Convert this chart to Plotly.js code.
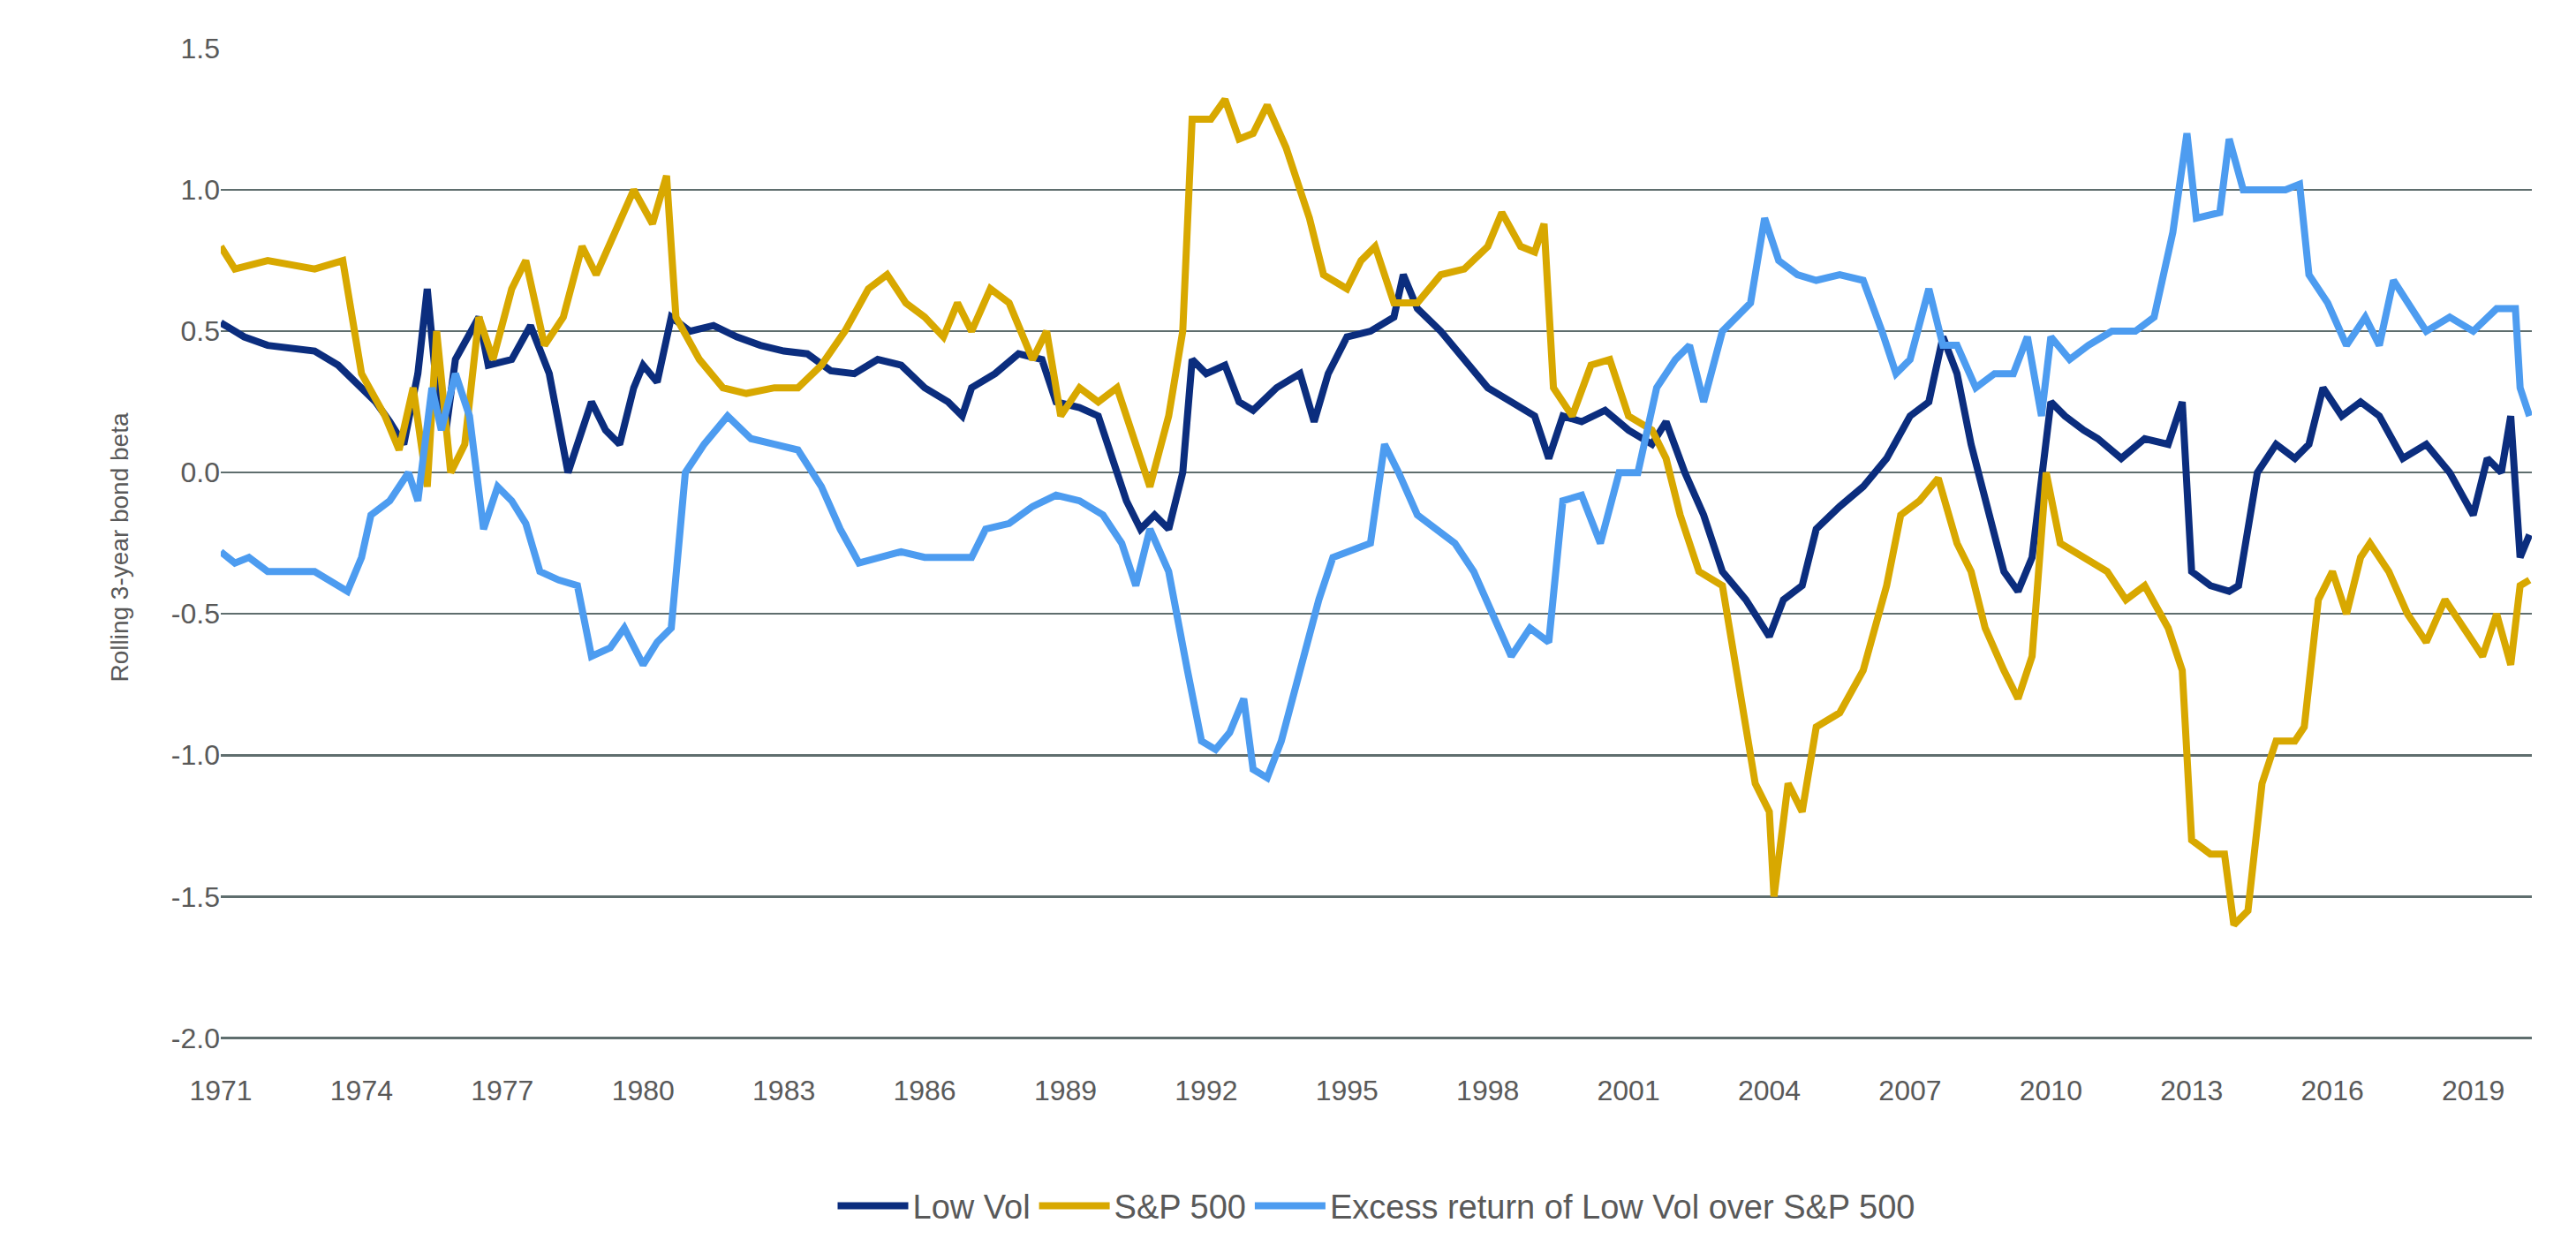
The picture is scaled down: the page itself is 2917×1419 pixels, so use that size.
<!DOCTYPE html>
<html>
<head>
<meta charset="utf-8">
<script src="https://cdn.plot.ly/plotly-3.0.1.min.js"></script>
<style>
  html, body { margin: 0; padding: 0; background: #ffffff; }
  #chart { width: 2917px; height: 1419px; }
</style>
</head>
<body>
<div id="chart"></div>
<script>
/* ── data ───────────────────────────────────────────────── */
const lowVolX = [1971.0,1971.5,1972,1973,1973.5,1974,1974.3,1974.6,1974.9,1975.2,1975.4,1975.6,1975.8,1976,1976.5,1976.7,1977.2,1977.6,1978,1978.4,1978.7,1978.9,1979.2,1979.5,1979.8,1980,1980.3,1980.6,1981,1981.5,1982,1982.5,1983,1983.5,1984,1984.5,1985,1985.5,1986,1986.5,1986.8,1987,1987.5,1988,1988.5,1988.8,1989.3,1989.7,1990,1990.3,1990.6,1990.9,1991.2,1991.5,1991.7,1992,1992.4,1992.7,1993,1993.5,1994,1994.3,1994.6,1995,1995.5,1996,1996.2,1996.5,1997,1997.5,1998,1998.5,1999,1999.3,1999.6,2000,2000.5,2001,2001.5,2001.8,2002.2,2002.6,2003,2003.5,2004,2004.3,2004.7,2005,2005.5,2006,2006.5,2007,2007.4,2007.7,2008,2008.3,2008.6,2009,2009.3,2009.6,2010,2010.3,2010.7,2011,2011.5,2012,2012.5,2012.8,2013,2013.4,2013.8,2014,2014.4,2014.8,2015.2,2015.5,2015.8,2016.2,2016.6,2017,2017.5,2018,2018.5,2019,2019.3,2019.6,2019.8,2020,2020.2];
const lowVolY = [0.53,0.48,0.45,0.43,0.38,0.30,0.25,0.18,0.10,0.35,0.65,0.30,0.15,0.40,0.55,0.38,0.40,0.52,0.35,0.0,0.15,0.25,0.15,0.10,0.30,0.38,0.32,0.55,0.50,0.52,0.48,0.45,0.43,0.42,0.36,0.35,0.40,0.38,0.30,0.25,0.20,0.30,0.35,0.42,0.40,0.25,0.23,0.20,0.05,-0.10,-0.20,-0.15,-0.20,0.0,0.40,0.35,0.38,0.25,0.22,0.30,0.35,0.18,0.35,0.48,0.50,0.55,0.70,0.58,0.50,0.40,0.30,0.25,0.20,0.05,0.20,0.18,0.22,0.15,0.10,0.18,0.0,-0.15,-0.35,-0.45,-0.58,-0.45,-0.40,-0.20,-0.12,-0.05,0.05,0.20,0.25,0.48,0.35,0.10,-0.10,-0.35,-0.42,-0.30,0.25,0.20,0.15,0.12,0.05,0.12,0.10,0.25,-0.35,-0.40,-0.42,-0.40,0.0,0.10,0.05,0.10,0.30,0.20,0.25,0.20,0.05,0.10,0.0,-0.15,0.05,0.0,0.20,-0.30,-0.22];

const spX = [1971,1971.3,1972,1973,1973.6,1974,1974.5,1974.8,1975.1,1975.4,1975.6,1975.9,1976.2,1976.5,1976.8,1977.2,1977.5,1977.9,1978.3,1978.7,1979,1979.4,1979.8,1980.2,1980.5,1980.7,1981.2,1981.7,1982.2,1982.8,1983.3,1983.8,1984.3,1984.8,1985.2,1985.6,1986,1986.4,1986.7,1987,1987.4,1987.8,1988.3,1988.6,1988.9,1989.3,1989.7,1990.1,1990.5,1990.8,1991.2,1991.5,1991.7,1992.1,1992.4,1992.7,1993,1993.3,1993.7,1994.2,1994.5,1995,1995.3,1995.6,1996,1996.5,1997,1997.5,1998,1998.3,1998.7,1999,1999.2,1999.4,1999.8,2000.2,2000.6,2001,2001.5,2001.8,2002.1,2002.5,2003,2003.3,2003.7,2004,2004.1,2004.4,2004.7,2005,2005.5,2006,2006.5,2006.8,2007.2,2007.6,2008,2008.3,2008.6,2009,2009.3,2009.6,2009.9,2010.2,2010.7,2011.2,2011.6,2012,2012.5,2012.8,2013,2013.4,2013.7,2013.9,2014.2,2014.5,2014.8,2015.2,2015.4,2015.7,2016,2016.3,2016.6,2016.8,2017.2,2017.6,2018,2018.4,2018.8,2019.2,2019.5,2019.8,2020,2020.2];
const spY = [0.80,0.72,0.75,0.72,0.75,0.35,0.20,0.08,0.30,-0.05,0.50,0.0,0.10,0.55,0.40,0.65,0.75,0.45,0.55,0.80,0.70,0.85,1.0,0.88,1.05,0.55,0.40,0.30,0.28,0.30,0.30,0.38,0.50,0.65,0.70,0.60,0.55,0.48,0.60,0.50,0.65,0.60,0.40,0.50,0.20,0.30,0.25,0.30,0.10,-0.05,0.20,0.50,1.25,1.25,1.32,1.18,1.20,1.30,1.15,0.90,0.70,0.65,0.75,0.80,0.60,0.60,0.70,0.72,0.80,0.92,0.80,0.78,0.88,0.30,0.20,0.38,0.40,0.20,0.15,0.05,-0.15,-0.35,-0.40,-0.70,-1.10,-1.20,-1.50,-1.10,-1.20,-0.90,-0.85,-0.70,-0.40,-0.15,-0.10,-0.02,-0.25,-0.35,-0.55,-0.70,-0.80,-0.65,0.0,-0.25,-0.30,-0.35,-0.45,-0.40,-0.55,-0.70,-1.30,-1.35,-1.35,-1.60,-1.55,-1.10,-0.95,-0.95,-0.90,-0.45,-0.35,-0.50,-0.30,-0.25,-0.35,-0.50,-0.60,-0.45,-0.55,-0.65,-0.50,-0.68,-0.40,-0.38];

const excessX = [1971,1971.3,1971.6,1972,1973,1973.7,1974,1974.2,1974.6,1975,1975.2,1975.5,1975.7,1976,1976.3,1976.6,1976.9,1977.2,1977.5,1977.8,1978.2,1978.6,1978.9,1979.3,1979.6,1980,1980.3,1980.6,1980.9,1981.3,1981.8,1982.3,1982.8,1983.3,1983.8,1984.2,1984.6,1985,1985.5,1986,1986.5,1987,1987.3,1987.8,1988.3,1988.8,1989.3,1989.8,1990.2,1990.5,1990.8,1991.2,1991.6,1991.9,1992.2,1992.5,1992.8,1993,1993.3,1993.6,1994,1994.4,1994.7,1995,1995.5,1995.8,1996.1,1996.5,1996.9,1997.3,1997.7,1998.1,1998.5,1998.9,1999.3,1999.6,2000,2000.4,2000.8,2001.2,2001.6,2002,2002.3,2002.6,2003,2003.3,2003.6,2003.9,2004.2,2004.6,2005,2005.5,2006,2006.4,2006.7,2007,2007.4,2007.7,2008,2008.4,2008.8,2009.2,2009.5,2009.8,2010,2010.4,2010.8,2011.3,2011.8,2012.2,2012.6,2012.9,2013.1,2013.6,2013.8,2014.1,2014.5,2015,2015.3,2015.5,2015.9,2016.3,2016.7,2017,2017.3,2017.6,2018,2018.5,2019,2019.5,2019.9,2020,2020.2];
const excessY = [-0.28,-0.32,-0.30,-0.35,-0.35,-0.42,-0.30,-0.15,-0.10,0.0,-0.10,0.30,0.15,0.35,0.20,-0.20,-0.05,-0.10,-0.18,-0.35,-0.38,-0.40,-0.65,-0.62,-0.55,-0.68,-0.60,-0.55,0.0,0.10,0.20,0.12,0.10,0.08,-0.05,-0.20,-0.32,-0.30,-0.28,-0.30,-0.30,-0.30,-0.20,-0.18,-0.12,-0.08,-0.10,-0.15,-0.25,-0.40,-0.20,-0.35,-0.70,-0.95,-0.98,-0.92,-0.80,-1.05,-1.08,-0.95,-0.70,-0.45,-0.30,-0.28,-0.25,0.10,0.0,-0.15,-0.20,-0.25,-0.35,-0.50,-0.65,-0.55,-0.60,-0.10,-0.08,-0.25,0.0,0.0,0.30,0.40,0.45,0.25,0.50,0.55,0.60,0.90,0.75,0.70,0.68,0.70,0.68,0.50,0.35,0.40,0.65,0.45,0.45,0.30,0.35,0.35,0.48,0.20,0.48,0.40,0.45,0.50,0.50,0.55,0.85,1.20,0.90,0.92,1.18,1.00,1.00,1.00,1.02,0.70,0.60,0.45,0.55,0.45,0.68,0.60,0.50,0.55,0.50,0.58,0.58,0.30,0.20];

const yearTicks = [1971,1974,1977,1980,1983,1986,1989,1992,1995,1998,2001,2004,2007,2010,2013,2016,2019];
const yTicks = [1.5,1.0,0.5,0.0,-0.5,-1.0,-1.5,-2.0];

/* ── colours ─────────────────────────────────────────────── */
const colors = {
    navy  : "#0b2d7e",
    gold  : "#d8a800",
    sky   : "#4d9cf0",
    text  : "#595959",
    grid  : "#5f6e6e"
};

function lineTrace(x, y, name, color) {
    return {
        x: x, y: y, name: name,
        type: "scatter", mode: "lines",
        line: { color: color, width: 8 }
    };
}

const traces = [
    lineTrace(lowVolX, lowVolY, "Low Vol", colors.navy),
    lineTrace(spX, spY, "S&P 500", colors.gold),
    lineTrace(excessX, excessY, "Excess return of Low Vol over S&P 500", colors.sky)
];

const layout = {
    width: 2917, height: 1419,
    paper_bgcolor: "#ffffff",
    plot_bgcolor : "#ffffff",
    font: { family: "Liberation Sans, Arial, sans-serif", color: colors.text, size: 32 },
    margin: { l: 250, r: 50, t: 55, b: 234 },
    xaxis: {
        range: [1971, 2020.25],
        tickvals: yearTicks,
        ticktext: yearTicks.map(String),
        showgrid: false, zeroline: false, showline: false,
        ticks: "", ticklabelstandoff: 28,
        tickfont: { size: 32, color: colors.text }
    },
    yaxis: {
        range: [-2.03, 1.5],
        tickvals: yTicks,
        ticktext: yTicks.map(v => v.toFixed(1)),
        showgrid: true, gridcolor: colors.grid, gridwidth: 2.5,
        zeroline: false, showline: false, ticks: "",
        tickfont: { size: 32, color: colors.text },
        title: { text: "Rolling 3-year bond beta", font: { size: 28, color: colors.text }, standoff: 40 }
    },
    showlegend: true,
    legend: {
        orientation: "h",
        x: 0.5, xanchor: "center",
        y: -0.16, yanchor: "middle",
        font: { size: 38, color: colors.text },
        itemwidth: 80
    }
};

Plotly.newPlot("chart", traces, layout, { displayModeBar: false, staticPlot: true });
</script>
</body>
</html>
